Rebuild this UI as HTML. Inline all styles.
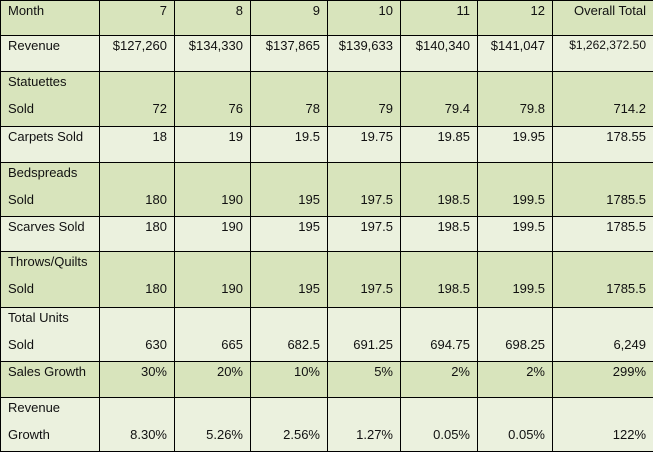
<!DOCTYPE html>
<html><head><style>
body{margin:0;background:#fff;}
table{border-collapse:collapse;table-layout:fixed;width:653px;font-family:"Liberation Sans",sans-serif;font-size:13px;color:#111;}
td{border:1.5px solid #000;vertical-align:top;padding:0 7px;line-height:27px;text-align:right;white-space:nowrap;overflow:hidden;}
td span{display:block;margin-top:-4px;}
td:first-child{text-align:left;}
tr.d td{background:#d8e4bc;}
tr.l td{background:#ebf1de;}
</style></head><body>
<table>
<colgroup><col style="width:99px"><col style="width:75px"><col style="width:76px"><col style="width:77px"><col style="width:73px"><col style="width:77px"><col style="width:75px"><col style="width:101px"></colgroup>
<tr class="d" style="height:35px"><td><span>Month</span></td><td><span>7</span></td><td><span>8</span></td><td><span>9</span></td><td><span>10</span></td><td><span>11</span></td><td><span>12</span></td><td><span>Overall Total</span></td></tr>
<tr class="l" style="height:36px"><td><span>Revenue</span></td><td><span>$127,260</span></td><td><span>$134,330</span></td><td><span>$137,865</span></td><td><span>$139,633</span></td><td><span>$140,340</span></td><td><span>$141,047</span></td><td><span style="font-size:12px">$1,262,372.50</span></td></tr>
<tr class="d" style="height:55px"><td><span>Statuettes<br>Sold</span></td><td><span><br>72</span></td><td><span><br>76</span></td><td><span><br>78</span></td><td><span><br>79</span></td><td><span><br>79.4</span></td><td><span><br>79.8</span></td><td><span><br>714.2</span></td></tr>
<tr class="l" style="height:36px"><td><span>Carpets Sold</span></td><td><span>18</span></td><td><span>19</span></td><td><span>19.5</span></td><td><span>19.75</span></td><td><span>19.85</span></td><td><span>19.95</span></td><td><span>178.55</span></td></tr>
<tr class="d" style="height:54px"><td><span>Bedspreads<br>Sold</span></td><td><span><br>180</span></td><td><span><br>190</span></td><td><span><br>195</span></td><td><span><br>197.5</span></td><td><span><br>198.5</span></td><td><span><br>199.5</span></td><td><span><br>1785.5</span></td></tr>
<tr class="l" style="height:35px"><td><span>Scarves Sold</span></td><td><span>180</span></td><td><span>190</span></td><td><span>195</span></td><td><span>197.5</span></td><td><span>198.5</span></td><td><span>199.5</span></td><td><span>1785.5</span></td></tr>
<tr class="d" style="height:56px"><td><span>Throws/Quilts<br>Sold</span></td><td><span><br>180</span></td><td><span><br>190</span></td><td><span><br>195</span></td><td><span><br>197.5</span></td><td><span><br>198.5</span></td><td><span><br>199.5</span></td><td><span><br>1785.5</span></td></tr>
<tr class="l" style="height:54px"><td><span>Total Units<br>Sold</span></td><td><span><br>630</span></td><td><span><br>665</span></td><td><span><br>682.5</span></td><td><span><br>691.25</span></td><td><span><br>694.75</span></td><td><span><br>698.25</span></td><td><span><br>6,249</span></td></tr>
<tr class="d" style="height:36px"><td><span>Sales Growth</span></td><td><span>30%</span></td><td><span>20%</span></td><td><span>10%</span></td><td><span>5%</span></td><td><span>2%</span></td><td><span>2%</span></td><td><span>299%</span></td></tr>
<tr class="l" style="height:54px"><td><span>Revenue<br>Growth</span></td><td><span><br>8.30%</span></td><td><span><br>5.26%</span></td><td><span><br>2.56%</span></td><td><span><br>1.27%</span></td><td><span><br>0.05%</span></td><td><span><br>0.05%</span></td><td><span><br>122%</span></td></tr>
</table>
</body></html>
